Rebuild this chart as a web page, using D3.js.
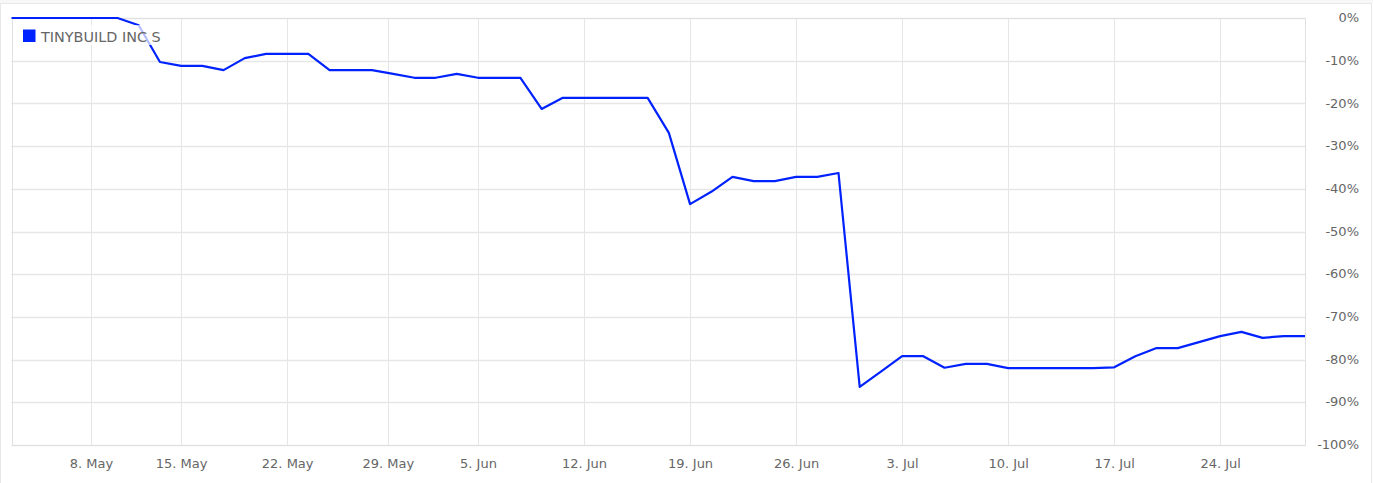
<!DOCTYPE html>
<html><head><meta charset="utf-8">
<script src="https://cdn.jsdelivr.net/npm/d3@7"></script>
<style>html,body{margin:0;padding:0;background:#fff;}svg{display:block;font-family:"DejaVu Sans",sans-serif;}</style>
</head><body>
<svg id="chart" width="1373" height="483"></svg>
<script>
// Trading days (London, 2023) – ordinal axis
const dates = ["2023-05-02","2023-05-03","2023-05-04","2023-05-05","2023-05-09","2023-05-10","2023-05-11","2023-05-12",
"2023-05-15","2023-05-16","2023-05-17","2023-05-18","2023-05-19","2023-05-22","2023-05-23","2023-05-24","2023-05-25","2023-05-26",
"2023-05-30","2023-05-31","2023-06-01","2023-06-02","2023-06-05","2023-06-06","2023-06-07","2023-06-08","2023-06-09",
"2023-06-12","2023-06-13","2023-06-14","2023-06-15","2023-06-16","2023-06-19","2023-06-20","2023-06-21","2023-06-22","2023-06-23",
"2023-06-26","2023-06-27","2023-06-28","2023-06-29","2023-06-30","2023-07-03","2023-07-04","2023-07-05","2023-07-06","2023-07-07",
"2023-07-10","2023-07-11","2023-07-12","2023-07-13","2023-07-14","2023-07-17","2023-07-18","2023-07-19","2023-07-20","2023-07-21",
"2023-07-24","2023-07-25","2023-07-26","2023-07-27","2023-07-28"];
const values = [0,0,0,0,0,0,-1.7,-10.3,
-11.2,-11.2,-12.2,-9.4,-8.4,-8.4,-8.4,-12.2,-12.2,-12.2,
-13.1,-14.0,-14.0,-13.1,-14.0,-14.0,-14.0,-21.3,-18.7,
-18.7,-18.7,-18.7,-18.7,-26.9,-43.6,-40.7,-37.2,-38.2,-38.2,
-37.2,-37.2,-36.3,-86.4,-82.8,-79.2,-79.2,-81.9,-81.0,-81.0,
-82.0,-82.0,-82.0,-82.0,-82.0,-81.8,-79.2,-77.3,-77.3,-75.9,
-74.5,-73.5,-74.9,-74.5,-74.5];
const seriesName = "TINYBUILD INC S";
const xTickDates = ["2023-05-08","2023-05-15","2023-05-22","2023-05-29","2023-06-05","2023-06-12","2023-06-19","2023-06-26","2023-07-03","2023-07-10","2023-07-17","2023-07-24"];
const xTickLabels = ["8. May","15. May","22. May","29. May","5. Jun","12. Jun","19. Jun","26. Jun","3. Jul","10. Jul","17. Jul","24. Jul"];
const yTicks = [0,-10,-20,-30,-40,-50,-60,-70,-80,-90,-100];

const parse = d3.utcParse("%Y-%m-%d");
const times = dates.map(d => parse(d).getTime());
// ordinal position: interpolate between trading days for non-trading tick dates
const ordinalPos = d3.scaleLinear().domain(times).range(times.map((t,i)=>i));

const svg = d3.select("#chart");
const L = 11.5, R = 1305, T = 18, B = 445;
const x = d3.scaleLinear().domain([0, dates.length-1]).range([L, R]);
const y = d3.scaleLinear().domain([0, -100]).range([T, B]);

// outer frame
svg.append("rect").attr("x",0).attr("y",0).attr("width",1373).attr("height",3).attr("fill","#f7f7f7");
svg.append("rect").attr("x",0.5).attr("y",3.5).attr("width",1371).attr("height",490)
  .attr("fill","none").attr("stroke","#e8e8e8");

// grid
const g = svg.append("g");
g.selectAll(".hg").data(yTicks).join("line")
  .attr("x1",L).attr("x2",R).attr("y1",d=>Math.round(y(d))+0.5).attr("y2",d=>Math.round(y(d))+0.5)
  .attr("stroke","#e6e6e6").attr("stroke-width",1.3);
const tickPos = xTickDates.map(d => ordinalPos(parse(d).getTime()));
g.selectAll(".vg").data(tickPos).join("line")
  .attr("x1",d=>Math.round(x(d))+0.5).attr("x2",d=>Math.round(x(d))+0.5).attr("y1",T).attr("y2",B)
  .attr("stroke","#e6e6e6").attr("stroke-width",1);
// plot border
svg.append("rect").attr("x",Math.round(L)+0.5).attr("y",T+0.5).attr("width",R-Math.round(L)).attr("height",B-T)
  .attr("fill","none").attr("stroke","#e0e0e0");

// y axis labels (right)
const yAxis = d3.axisRight(y).tickValues(yTicks).tickSize(0).tickPadding(0).tickFormat(d=>d+"%");
const ya = svg.append("g").attr("transform","translate(1359,0)").call(yAxis);
ya.select(".domain").remove();
ya.selectAll("text").attr("text-anchor","end").attr("x",0).attr("dy","0.28em")
  .attr("fill","#666").style("font-size","13px").style("font-family","DejaVu Sans");

// x axis labels
const xAxis = d3.axisBottom(x).tickValues(tickPos).tickSize(0).tickPadding(0)
  .tickFormat((d,i)=>xTickLabels[i]);
const xa = svg.append("g").attr("transform","translate(0,459)").call(xAxis);
xa.select(".domain").remove();
xa.selectAll("text").attr("y",0).attr("dy","0.71em").attr("fill","#666")
  .style("font-size","13px").style("font-family","DejaVu Sans");

// line
const line = d3.line().x((d,i)=>x(i)).y(d=>y(d));
svg.append("path").datum(values).attr("d",line).attr("fill","none")
  .attr("stroke","#0022ff").attr("stroke-width",2.2).attr("stroke-linejoin","round");

// legend
const lg = svg.append("g");
lg.append("rect").attr("x",18).attr("y",25).attr("width",150).attr("height",20)
  .attr("fill","#fff").attr("fill-opacity",0.7);
lg.append("rect").attr("x",23).attr("y",29.5).attr("width",12.5).attr("height",12.5)
  .attr("fill","#0022ff");
lg.append("text").attr("x",41).attr("y",41.5).text(seriesName)
  .attr("fill","#666").style("font-size","14.4px").style("font-family","DejaVu Sans");
</script>
</body></html>
